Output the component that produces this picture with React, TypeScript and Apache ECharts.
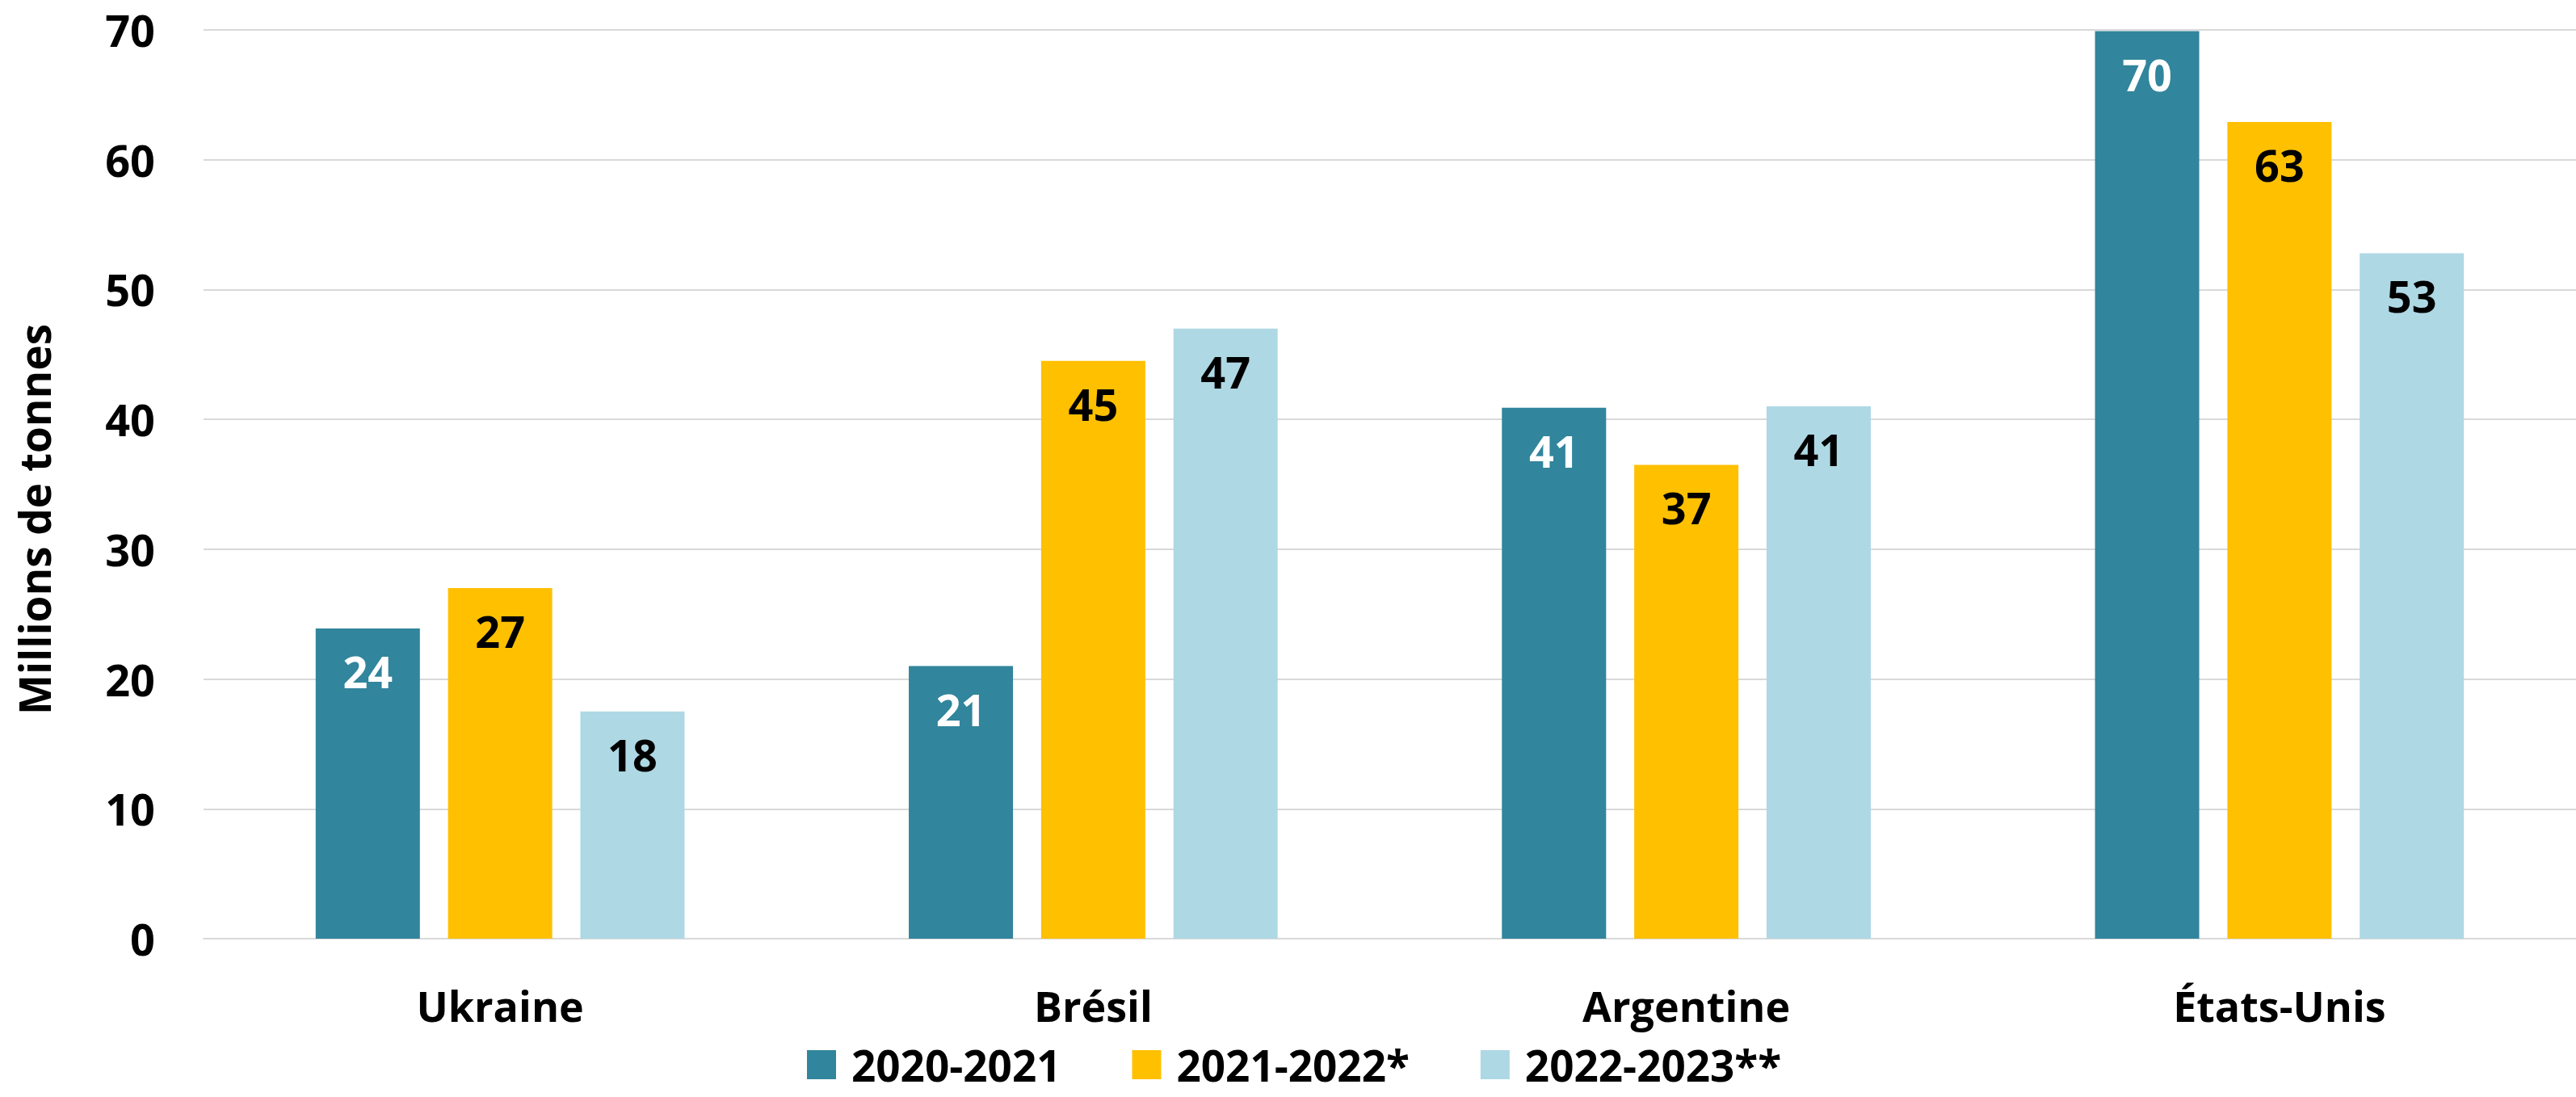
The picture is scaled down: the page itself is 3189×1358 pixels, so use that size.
import React, { useEffect, useRef } from "react";
import * as echarts from "echarts";

const categories = ["Ukraine", "Brésil", "Argentine", "États-Unis"];
const seriesNames = ["2020-2021", "2021-2022*", "2022-2023**"];
const values2020 = [23.9, 21.0, 40.9, 69.9];
const values2021 = [27.0, 44.5, 36.5, 62.9];
const values2022 = [17.5, 47.0, 41.0, 52.8];
const yTicks = { min: 0, max: 70, interval: 10 };
const yTitle = "Millions de tonnes";

const colors = ["#31859C", "#FFC000", "#AED8E4"];
const labelColors = ["#FFFFFF", "#000000", "#000000"];
const FONT = "Open Sans";

export default function App() {
  const ref = useRef<HTMLDivElement>(null);
  useEffect(() => {
    if (!ref.current) return;
    const chart = echarts.init(ref.current, null, { renderer: "svg" });
    const data = [values2020, values2021, values2022];
    chart.setOption({
      animation: false,
      backgroundColor: "#FFFFFF",
      textStyle: { fontFamily: FONT },
      grid: { left: 252, right: -11, top: 37, bottom: 196, containLabel: false },
      legend: {
        left: 999,
        top: 1291,
        padding: 0,
        icon: "rect",
        itemWidth: 36,
        itemHeight: 36,
        itemGap: 88,
        data: seriesNames,
        textStyle: {
          fontFamily: FONT,
          fontWeight: "bold",
          fontSize: 53,
          lineHeight: 54,
          color: "#000000",
          padding: [0, 0, 0, 14],
        },
      },
      xAxis: {
        type: "category",
        data: categories,
        axisLine: { show: true, lineStyle: { color: "#D9D9D9", width: 2 } },
        axisTick: { show: false },
        axisLabel: {
          fontFamily: FONT,
          fontWeight: "bold",
          fontSize: 52,
          lineHeight: 60,
          color: "#000000",
          margin: 52,
        },
      },
      yAxis: {
        type: "value",
        min: yTicks.min,
        max: yTicks.max,
        interval: yTicks.interval,
        axisLine: { show: false },
        axisTick: { show: false },
        splitLine: { lineStyle: { color: "#D9D9D9", width: 2 } },
        axisLabel: {
          fontFamily: FONT,
          fontWeight: "bold",
          fontSize: 54,
          color: "#000000",
          margin: 60,
        },
      },
      graphic: [
        {
          type: "text",
          x: 42,
          y: 643,
          rotation: Math.PI / 2,
          style: {
            text: yTitle,
            fontFamily: FONT,
            fontWeight: "bold",
            fontSize: 53,
            fill: "#000000",
            textAlign: "center",
            textVerticalAlign: "middle",
          },
        },
      ],
      series: seriesNames.map((name, i) => ({
        name,
        type: "bar",
        data: data[i],
        barWidth: 129,
        barGap: "27%",
        itemStyle: { color: colors[i] },
        label: {
          show: true,
          position: "insideTop",
          distance: 25,
          fontFamily: FONT,
          fontWeight: "bold",
          fontSize: 54,
          lineHeight: 56,
          color: labelColors[i],
          formatter: (p: any) => String(Math.round(p.value)),
        },
      })),
    });
    return () => chart.dispose();
  }, []);
  return (
    <div
      ref={ref}
      style={{ position: "fixed", left: 0, top: 0, width: "3189px", height: "1358px", background: "#fff" }}
    />
  );
}
